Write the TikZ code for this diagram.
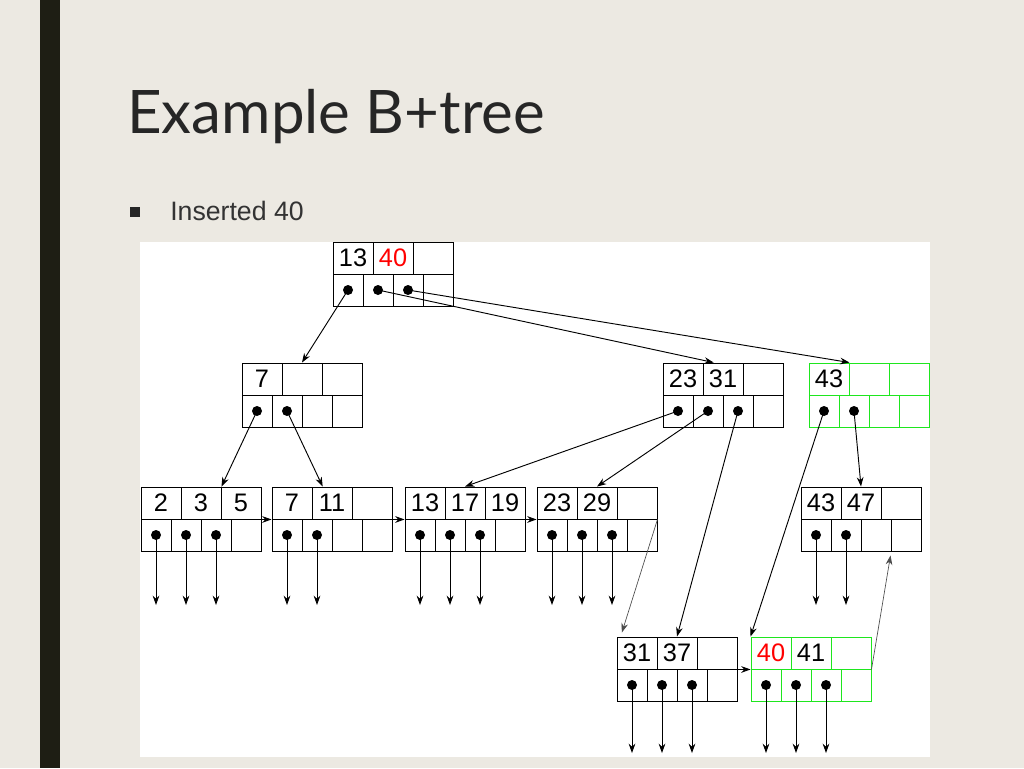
\documentclass[tikz,border=0pt]{standalone}
\usepackage{fontspec}
\setmainfont{Liberation Sans}
\newfontfamily\titlefont{Lato}
\usepackage{xcolor}
\usetikzlibrary{arrows.meta,positioning,calc}

\definecolor{slidebg}{HTML}{ECE9E2}
\definecolor{barcol}{HTML}{1E1E14}
\definecolor{leafgreen}{RGB}{30,230,30}

% one B+tree node: 3 key cells over 4 pointer cells
\newcommand{\btnode}[5]{%
  \foreach \k [count=\i] in {#4}
    \node [keycell] (#1-k\i) at (#2+40*\i-20, #3+16) {\k};
  \foreach \i in {1,...,4}
    \node [ptrcell] (#1-p\i) at (#2+30*\i-15, #3+48) {};
  \foreach \i in {1,...,#5}
    \fill [black] (#1-p\i.center) circle (5);
}

\begin{document}
\begin{tikzpicture}[x=0.75pt, y=-0.75pt, >={Stealth[length=7pt,width=5pt]}]
    \tikzset{cellline/.style={draw=black},
             keycell/.style={rectangle, cellline, minimum width=30pt, minimum height=24pt, inner sep=0pt, font=\fontsize{19}{20}\selectfont, line width=0.7pt},
             ptrcell/.style={rectangle, cellline, minimum width=22.5pt, minimum height=24pt, inner sep=0pt, line width=0.7pt},
             ptr/.style={->, line width=0.7pt},
             sib/.style={->, line width=0.5pt, black!70}}

    \fill [slidebg] (0,0) rectangle (1024,768);
    \fill [barcol] (40,0) rectangle (60,768);
    \node [anchor=base west, inner sep=0pt, font=\titlefont\fontsize{45}{50}\selectfont, text=black!85] (title) at (127,133) {Example B+tree};
    \fill [black!85] (130,207) rectangle (140,217);
    \node [anchor=base west, inner sep=0pt, font=\fontsize{20}{22}\selectfont, text=black!80] (sub) at (170,220) {Inserted 40};
    \fill [white] (140,242) rectangle (930,757);

    % inner nodes
    \btnode{root}{333}{242}{13,\textcolor{red}{40},{}}{3}
    \btnode{nA}{242}{363}{7,{},{}}{2}
    \btnode{nB}{663}{363}{23,31,{}}{3}
    \begin{scope}[cellline/.style={draw=leafgreen}]
      \btnode{nC}{809}{363}{43,{},{}}{2}
    \end{scope}

    % leaves
    \btnode{lfA}{141}{487}{2,3,5}{3}
    \btnode{lfB}{272}{487}{7,11,{}}{2}
    \btnode{lfC}{405}{487}{13,17,19}{3}
    \btnode{lfD}{537}{487}{23,29,{}}{3}
    \btnode{lfE}{801}{487}{43,47,{}}{2}
    \btnode{lfF}{617}{637}{31,37,{}}{3}
    \begin{scope}[cellline/.style={draw=leafgreen}]
      \btnode{lfG}{751}{637}{\textcolor{red}{40},41,{}}{3}
    \end{scope}

    % tree pointers
    \draw [ptr] (root-p1.center) -- (nA-k2.north);
    \draw [ptr] (root-p2.center) -- ([xshift=-7pt]nB-k2.north);
    \draw [ptr] (root-p3.center) -- (nC-k1.north east);
    \draw [ptr] (nA-p1.center) -- (lfA-k2.north east);
    \draw [ptr] (nA-p2.center) -- ([xshift=-7pt]lfB-k2.north);
    \draw [ptr] (nB-p1.center) -- (lfC-k2.north);
    \draw [ptr] (nB-p2.center) -- (lfD-k2.north);
    \draw [ptr] (nB-p3.center) -- (lfF-k2.north);
    \draw [ptr] (nC-p1.center) -- (lfG-k1.north west);
    \draw [ptr] (nC-p2.center) -- (lfE-k2.north);

    % record pointers
    \foreach \n/\c in {lfA/3, lfB/2, lfC/3, lfD/3, lfE/2}
      \foreach \i in {1,...,\c}
        \draw [ptr] (\n-p\i.center) -- ++(0,70);
    \foreach \n in {lfF, lfG}
      \foreach \i in {1,...,3}
        \draw [ptr] (\n-p\i.center) -- ++(0,68);

    % sibling links
    \draw [ptr] (lfA-k3.south east) -- (lfB-k1.south west);
    \draw [ptr] (lfB-k3.south east) -- (lfC-k1.south west);
    \draw [ptr] (lfC-k3.south east) -- (lfD-k1.south west);
    \draw [sib] (lfD-k3.south east) -- ([xshift=4pt,yshift=3pt]lfF-k1.north west);
    \draw [ptr] (lfF-k3.south east) -- (lfG-k1.south west);
    \draw [sib] (lfG-k3.south east) -- ([yshift=-3pt]lfE-p4.south west);
\end{tikzpicture}
\end{document}
